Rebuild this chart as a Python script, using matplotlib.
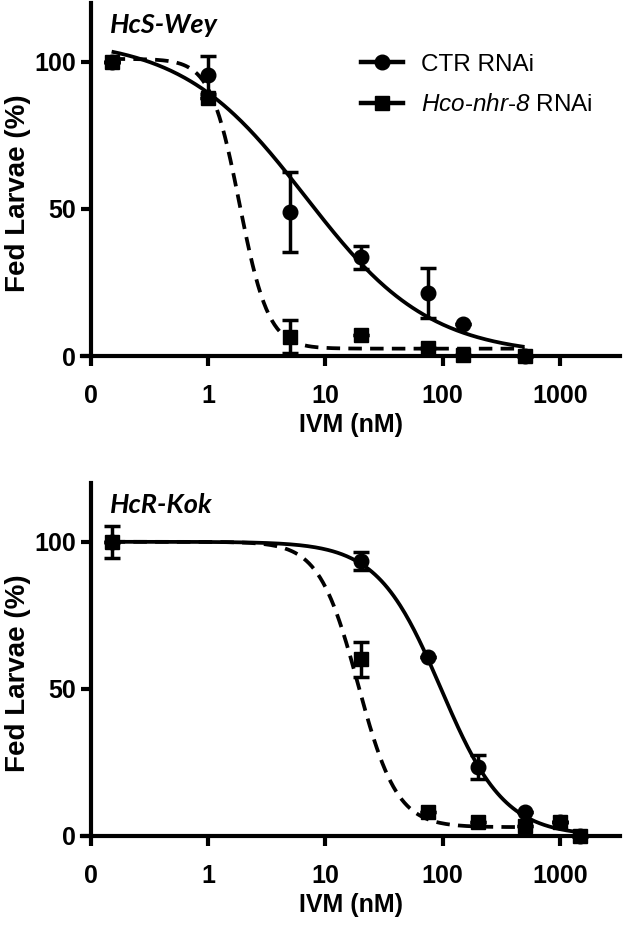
import numpy as np
import matplotlib
matplotlib.use("Agg")
import matplotlib.pyplot as plt
from matplotlib.lines import Line2D

plt.rcParams['font.family'] = ['Liberation Sans', 'DejaVu Sans']
# only the legend label uses mathtext: render it all in italic Arial-like font
plt.rcParams['mathtext.fontset'] = 'custom'
plt.rcParams['mathtext.it'] = 'Liberation Sans:italic'
plt.rcParams['mathtext.rm'] = 'Liberation Sans:italic'

# --- data ---
# HcS-Wey (top)
conc_s = [0.15, 1, 5, 20, 75, 150, 500]
ctr_s = [100, 95.5, 49, 33.5, 21.5, 11, 0]
ctr_s_err = [0, 6.5, 13.5, 4, 8.5, 0, 0]
nhr_s = [100, 87.7, 6.6, 7.2, 2.7, 0.3, 0]
nhr_s_err = [0, 0, 5.7, 0, 0, 0, 0]

# HcR-Kok (bottom)
conc_r = [0.15, 20, 75, 200, 500, 1000, 1500]
ctr_r = [100, 93.5, 61, 23.5, 8, 4.8, 0]
ctr_r_err = [0, 3, 0, 4, 0, 0, 0]
nhr_r = [100, 60, 8.3, 4.8, 3.4, 4.8, 0]
nhr_r_err = [5.5, 6, 0, 0, 0, 0, 0]

# dose-response fits: top, bottom, IC50, hill, x range
fit_ctr_s = [108, 0, 6.8, 0.82, 0.15, 500]
fit_nhr_s = [101, 2.5, 1.85, 3.5, 0.15, 500]
fit_ctr_r = [100, 0, 97, 1.6, 0.15, 1500]
fit_nhr_r = [100, 3, 19, 2.6, 0.15, 500]

xticks = [0.1, 1, 10, 100, 1000]
xticklabels = ['0', '1', '10', '100', '1000']
yticks = [0, 50, 100]


def dose_curve(p):
    top, bottom, ic50, hill, x0, x1 = p
    x = np.logspace(np.log10(x0), np.log10(x1), 300)
    y = bottom + (top - bottom) / (1 + (x / ic50) ** hill)
    return x, y


def draw_panel(ax, conc, ctr, ctr_err, nhr, nhr_err, fit_ctr, fit_nhr, title):
    xc, yc = dose_curve(fit_ctr)
    xn, yn = dose_curve(fit_nhr)
    ax.plot(xc, yc, color='black', lw=2.7, solid_capstyle='butt', zorder=3)
    ax.plot(xn, yn, color='black', lw=2.7, dashes=(3.6, 2.2), zorder=3)
    ax.errorbar(conc, ctr, yerr=ctr_err, fmt='o', color='black', ms=10.5,
                elinewidth=2.5, capsize=6, capthick=2.5, zorder=4, clip_on=False)
    ax.errorbar(conc, nhr, yerr=nhr_err, fmt='s', color='black', ms=10,
                elinewidth=2.5, capsize=6, capthick=2.5, zorder=5, clip_on=False)

    ax.set_xscale('log')
    ax.set_xlim(0.0833, 3250)
    ax.set_ylim(0, 120)
    ax.spines['left'].set_position(('data', 0.1))
    ax.spines['top'].set_visible(False)
    ax.spines['right'].set_visible(False)
    for s in ['left', 'bottom']:
        ax.spines[s].set_linewidth(3)
    ax.set_xticks(xticks)
    ax.set_xticklabels(xticklabels)
    ax.xaxis.set_minor_locator(matplotlib.ticker.NullLocator())
    ax.set_yticks(yticks)
    ax.tick_params(axis='both', width=3, length=7, labelsize=18)
    ax.tick_params(axis='x', pad=13)
    ax.tick_params(axis='y', pad=4)
    for lab in ax.get_xticklabels() + ax.get_yticklabels():
        lab.set_fontweight('bold')
    ax.set_xlabel('IVM (nM)', fontsize=18, fontweight='bold', labelpad=4)
    ax.set_ylabel('Fed Larvae (%)', fontsize=20, fontweight='bold')
    ax.yaxis.set_label_coords(-0.094, 0.46)
    ax.text(0.053, 0.972, title, transform=ax.transAxes, ha='left', va='top',
            fontsize=19.5, fontweight='bold', style='italic', family='Lato')


fig = plt.figure(figsize=(6.25, 9.3), dpi=100)
ax1 = fig.add_axes([0.1307, 0.6172, 0.861, 0.3796])
ax2 = fig.add_axes([0.1307, 0.1011, 0.861, 0.3796])

draw_panel(ax1, conc_s, ctr_s, ctr_s_err, nhr_s, nhr_s_err, fit_ctr_s, fit_nhr_s, 'HcS-Wey')
draw_panel(ax2, conc_r, ctr_r, ctr_r_err, nhr_r, nhr_r_err, fit_ctr_r, fit_nhr_r, 'HcR-Kok')

handles = [Line2D([], [], color='black', lw=3.2, marker='o', ms=10.5),
           Line2D([], [], color='black', lw=3.2, marker='s', ms=10)]
ax1.legend(handles, ['CTR RNAi', r'$Hco$-$nhr$-$8$ RNAi'],
           loc='upper left', bbox_to_anchor=(0.479, 0.918), frameon=False,
           fontsize=17.5, handlelength=1.7, handletextpad=0.75, labelspacing=0.75)

fig.savefig('out.png', dpi=100)
